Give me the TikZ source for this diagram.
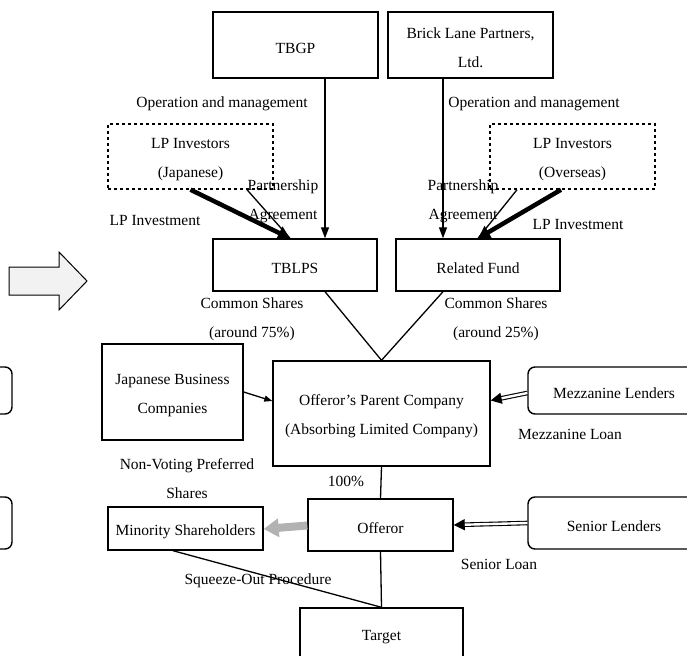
\documentclass[tikz,border=0pt]{standalone}
\usepackage{fontspec}
\setmainfont{Liberation Serif}
\usetikzlibrary{arrows.meta}
\newcommand\tallstrut{\rule{0pt}{17pt}}

\begin{document}
\begin{tikzpicture}[
x=1pt, y=-1pt,
font=\fontsize{15.5}{29}\selectfont,
bx/.style = {draw,line width=1.4pt,align=center,inner sep=0pt,execute at begin node={\tallstrut}},
dbx/.style = {bx,dashed},
rbx/.style = {bx,rounded corners=7pt},
lbl/.style = {align=center,inner sep=0pt,execute at begin node={\rule{0pt}{15pt}}},
edge/.style = {line width=1.3pt},
arr/.style = {edge,-{Triangle[length=11pt,width=8pt]}},
inv/.style = {line width=4.5pt,-{Triangle[length=12pt,width=14pt]}},
loan/.style = {line width=1.1pt,double,double distance=2.4pt,-{Triangle[length=11pt,width=11pt]}}
]
  \useasboundingbox (0,0) rectangle (687,655);
  \clip (0,0) rectangle (687,655);

  \node[bx, minimum width=165, minimum height=66] (tbgp) at (295.5,45) {TBGP};
  \node[bx, minimum width=165, minimum height=66] (blp) at (470.5,45) {\tallstrut Brick Lane Partners,\\Ltd.};
  \node[dbx, minimum width=165, minimum height=65] (lpj) at (190.5,156.5) {\tallstrut LP Investors\\(Japanese)};
  \node[dbx, minimum width=165, minimum height=65] (lpo) at (572.5,156.5) {\tallstrut LP Investors\\(Overseas)};
  \node[bx, minimum width=164, minimum height=52] (tblps) at (295,265) {TBLPS};
  \node[bx, minimum width=164, minimum height=52] (fund) at (478,265) {Related Fund};
  \node[bx, minimum width=141, minimum height=96] (jbc) at (172.5,392) {\tallstrut Japanese Business\\Companies};
  \node[bx, minimum width=217, minimum height=105] (parent) at (381.5,413.5) {\tallstrut Offeror's Parent Company\\(Absorbing Limited Company)};
  \node[rbx, minimum width=172, minimum height=47] (mezz) at (614,390.5) {Mezzanine Lenders};
  \node[bx, minimum width=145, minimum height=52] (offeror) at (380.5,525) {Offeror};
  \node[bx, minimum width=155, minimum height=43] (minority) at (185.5,528.5) {Minority Shareholders};
  \node[rbx, minimum width=172, minimum height=52] (senior) at (614,523) {Senior Lenders};
  \node[bx, minimum width=163, minimum height=52] (target) at (381.5,634) {Target};
  \node[rbx, minimum width=60, minimum height=47] (lft1) at (-18,390.5) {};
  \node[rbx, minimum width=60, minimum height=52] (lft2) at (-18,523) {};

  % labels
  \node[lbl] (opl) at (222,102) {Operation and management};
  \node[lbl] (opr) at (534,102) {Operation and management};
  \node[lbl] (pal) at (283,198.5) {\tallstrut Partnership\\Agreement};
  \node[lbl] (par) at (463,198.5) {\tallstrut Partnership\\Agreement};
  \node[lbl] (lpil) at (155,218) {LP Investment};
  \node[lbl] (lpir) at (578,222) {LP Investment};
  \node[lbl] (csl) at (252,316.5) {\tallstrut Common Shares\\(around 75\%)};
  \node[lbl] (csr) at (496,316.5) {\tallstrut Common Shares\\(around 25\%)};
  \node[lbl] (nvp) at (187,475.5) {\tallstrut Non-Voting Preferred\\Shares};
  \node[lbl] (pct) at (346,479) {100\%};
  \node[lbl] (ml) at (570,432) {Mezzanine Loan};
  \node[lbl] (sl) at (499,562) {Senior Loan};
  \node[lbl] (sop) at (258,579) {Squeeze-Out Procedure};

  % hollow arrow
  \draw[line width=1pt, fill=gray!10] (9,267) -- (59,267) -- (59,252) -- (87,281)
    -- (59,310) -- (59,295) -- (9,295) -- cycle;

  \draw[arr] ([xshift=29.5]tbgp.south) -- ([xshift=30]tblps.north);
  \draw[arr] ([xshift=-27.5]blp.south) -- ([xshift=-35]fund.north);
  \draw[inv] (lpj.south) -- ([xshift=-5]tblps.north);
  \draw[edge] ([xshift=56.5]lpj.south) -- ([xshift=-5]tblps.north);
  \draw[inv] ([xshift=-11.5]lpo.south) -- (fund.north);
  \draw[edge] ([xshift=-55.5]lpo.south) -- (fund.north);
  \draw[edge] ([xshift=30]tblps.south) -- (parent.north);
  \draw[edge] ([xshift=-35]fund.south) -- (parent.north);
  \draw[edge,-{Triangle[length=8pt,width=6pt]}] (jbc.east) -- ([yshift=12.5]parent.west);
  \draw[loan] ([yshift=-2.5]mezz.west) -- ([yshift=13]parent.east);
  \draw[edge] (parent.south) -- (offeror.north);
  \draw[gray!60, line width=8pt, -{Triangle[length=15pt,width=18pt]}] ([yshift=-0.5]offeror.west) -- ([yshift=-0.5]minority.east);
  \draw[loan] (senior.west) -- (offeror.east);
  \draw[edge] (offeror.south) -- (target.north);
  \draw[edge] ([xshift=-12.5]minority.south) -- (target.north);
\end{tikzpicture}
\end{document}
